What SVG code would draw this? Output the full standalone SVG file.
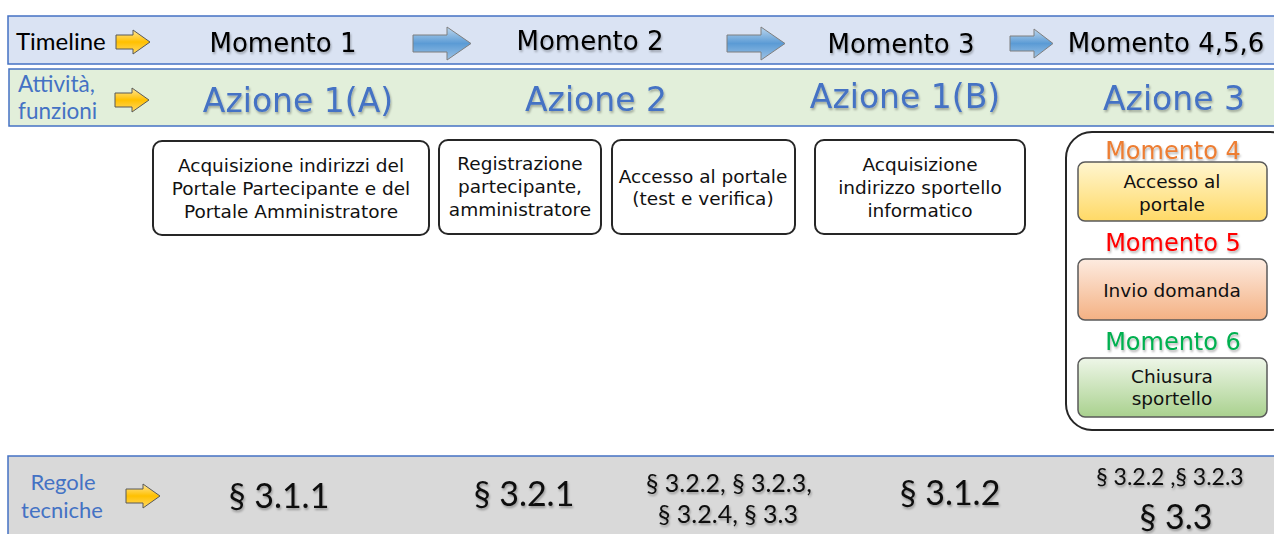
<svg xmlns="http://www.w3.org/2000/svg" width="1274" height="534" viewBox="0 0 1274 534">
<defs>
<linearGradient id="gY" x1="0" y1="0" x2="0" y2="1"><stop offset="0" stop-color="#ffe699"/><stop offset="0.5" stop-color="#ffc000"/><stop offset="1" stop-color="#ffd966"/></linearGradient>
<linearGradient id="gB" x1="0" y1="0" x2="0" y2="1"><stop offset="0" stop-color="#bdd7ee"/><stop offset="0.5" stop-color="#5b9bd5"/><stop offset="1" stop-color="#9dc3e6"/></linearGradient>
<linearGradient id="g4" x1="0" y1="0" x2="0" y2="1"><stop offset="0" stop-color="#fff6d0"/><stop offset="1" stop-color="#ffd966"/></linearGradient>
<linearGradient id="g5" x1="0" y1="0" x2="0" y2="1"><stop offset="0" stop-color="#fdebe0"/><stop offset="1" stop-color="#f4b183"/></linearGradient>
<linearGradient id="g6" x1="0" y1="0" x2="0" y2="1"><stop offset="0" stop-color="#eef6e8"/><stop offset="1" stop-color="#a9d18e"/></linearGradient>
<filter id="sh" x="-10%" y="-30%" width="120%" height="170%"><feDropShadow dx="1" dy="2" stdDeviation="1" flood-color="#000" flood-opacity="0.3"/></filter>
<path id="ay" d="M0,5 H17 V0 L34,12 L17,24 V19 H0 Z"/>
<path id="ab" d="M0,8 H34 V0 L58,16.5 L34,33 V25 H0 Z"/>
</defs>
<style>
.bandT{fill:#dae3f3;stroke:#4472c4;stroke-width:1.5}
.bandA{fill:#e2efda;stroke:#4472c4;stroke-width:1.5}
.bandR{fill:#d9d9d9;stroke:#4472c4;stroke-width:1.5}
.yarr{fill:url(#gY);stroke:#595959;stroke-width:1}
.barr{fill:url(#gB);stroke:#7f7f7f;stroke-width:1}
.side{font-family:"Lato","Liberation Sans",sans-serif;fill:#4472c4}
.mom{font-family:"DejaVu Sans","Liberation Sans",sans-serif;font-size:26px;fill:#000;text-anchor:middle}
.az{font-family:"DejaVu Sans","Liberation Sans",sans-serif;font-size:33px;fill:#4472c4;text-anchor:middle}
.box{fill:#fff;stroke:#262626;stroke-width:2}
.ibox{stroke:#595959;stroke-width:1.5}
.bt{font-family:"DejaVu Sans","Liberation Sans",sans-serif;font-size:18.5px;fill:#111;text-anchor:middle}
.mt{font-family:"DejaVu Sans","Liberation Sans",sans-serif;font-size:24px;text-anchor:middle}
.sec{font-family:"Lato","Liberation Sans",sans-serif;fill:#111;text-anchor:middle}
</style>

<g id="band-timeline">
<rect class="bandT" x="8" y="16" width="1280" height="48"/>
<text x="16" y="50" font-size="24" style="font-family:'Lato','Liberation Sans',sans-serif;fill:#000">Timeline</text>
<use href="#ay" class="yarr" x="116" y="30"/>
<text class="mom" x="283" y="52" filter="url(#sh)">Momento 1</text>
<text class="mom" x="590" y="50" filter="url(#sh)">Momento 2</text>
<text class="mom" x="901" y="53" filter="url(#sh)">Momento 3</text>
<text class="mom" x="1166" y="52" filter="url(#sh)">Momento 4,5,6</text>
</g>

<g id="connectors">
<use href="#ab" class="barr" x="413" y="27"/>
<use href="#ab" class="barr" x="727" y="27"/>
<path class="barr" d="M1010,36 H1034 V29 L1053,43.5 L1034,58 V51 H1010 Z"/>
</g>

<g id="band-attivita">
<rect class="bandA" x="9" y="69" width="1280" height="57"/>
<text class="side" x="18" y="92" font-size="22.5">Attività,</text>
<text class="side" x="18" y="119" font-size="22.5">funzioni</text>
<use href="#ay" class="yarr" x="115" y="88"/>
<text class="az" x="298" y="112" filter="url(#sh)">Azione 1(A)</text>
<text class="az" x="596" y="111" filter="url(#sh)">Azione 2</text>
<text class="az" x="905" y="108" filter="url(#sh)">Azione 1(B)</text>
<text class="az" x="1174" y="110" filter="url(#sh)">Azione 3</text>
</g>

<g id="node-1a">
<rect class="box" x="153" y="141" width="276" height="94" rx="9"/>
<text class="bt" x="291" y="172">Acquisizione indirizzi del</text>
<text class="bt" x="291" y="195">Portale Partecipante e del</text>
<text class="bt" x="291" y="218">Portale Amministratore</text>
</g>
<g id="node-2a">
<rect class="box" x="439" y="140" width="162" height="94" rx="9"/>
<text class="bt" x="520" y="170">Registrazione</text>
<text class="bt" x="520" y="193">partecipante,</text>
<text class="bt" x="520" y="216">amministratore</text>
</g>
<g id="node-2b">
<rect class="box" x="612" y="140" width="183" height="94" rx="9"/>
<text class="bt" x="703" y="183">Accesso al portale</text>
<text class="bt" x="703" y="205">(test e verifica)</text>
</g>
<g id="node-1b">
<rect class="box" x="815" y="140" width="210" height="94" rx="9"/>
<text class="bt" x="920" y="171">Acquisizione</text>
<text class="bt" x="920" y="194">indirizzo sportello</text>
<text class="bt" x="920" y="217">informatico</text>
</g>

<g id="node-azione3">
<rect class="box" x="1066" y="132" width="230" height="298" rx="26"/>
<text class="mt" x="1173" y="159" fill="#ed7d31" filter="url(#sh)">Momento 4</text>
<rect class="ibox" x="1078" y="162" width="189" height="59" rx="7" fill="url(#g4)"/>
<text class="bt" x="1172" y="188">Accesso al</text>
<text class="bt" x="1172" y="211">portale</text>
<text class="mt" x="1173" y="251" fill="#ff0000" filter="url(#sh)">Momento 5</text>
<rect class="ibox" x="1078" y="259" width="189" height="61" rx="7" fill="url(#g5)"/>
<text class="bt" x="1172" y="297">Invio domanda</text>
<text class="mt" x="1173" y="350" fill="#00b050" filter="url(#sh)">Momento 6</text>
<rect class="ibox" x="1078" y="358" width="189" height="59" rx="7" fill="url(#g6)"/>
<text class="bt" x="1172" y="383">Chiusura</text>
<text class="bt" x="1172" y="405">sportello</text>
</g>

<g id="band-regole">
<rect class="bandR" x="8" y="456" width="1280" height="90"/>
<text class="side" x="63" y="490" font-size="22" text-anchor="middle">Regole</text>
<text class="side" x="62" y="518" font-size="22" text-anchor="middle">tecniche</text>
<use href="#ay" class="yarr" x="126" y="484"/>
<text class="sec" x="279" y="508" font-size="34" filter="url(#sh)">§ 3.1.1</text>
<text class="sec" x="524" y="506" font-size="34" filter="url(#sh)">§ 3.2.1</text>
<text class="sec" x="729" y="492" font-size="25" filter="url(#sh)">§ 3.2.2, § 3.2.3,</text>
<text class="sec" x="728" y="523" font-size="25" filter="url(#sh)">§ 3.2.4, § 3.3</text>
<text class="sec" x="950" y="505" font-size="34" filter="url(#sh)">§ 3.1.2</text>
<text class="sec" x="1170" y="485" font-size="23" filter="url(#sh)">§ 3.2.2 ,§ 3.2.3</text>
<text class="sec" x="1176" y="529" font-size="34" filter="url(#sh)">§ 3.3</text>
</g>
</svg>
